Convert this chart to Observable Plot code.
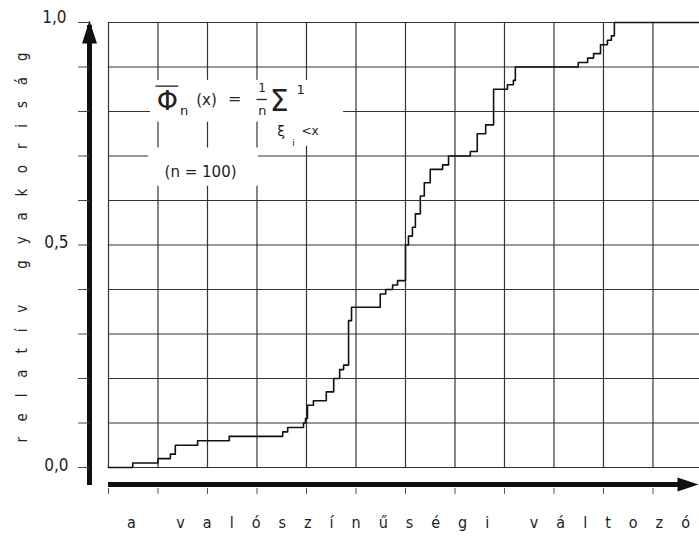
<!DOCTYPE html>
<html><head><meta charset="utf-8">
<script src="https://cdn.jsdelivr.net/npm/d3@7"></script>
<script src="https://cdn.jsdelivr.net/npm/@observablehq/plot@0.6"></script>
<style>html,body{margin:0;padding:0;background:#fff;}</style>
</head><body><div id="chart"></div>
<script>
// empirical distribution function, n = 100 (x in grid units)
const stepX = [0, 0.49, 1.0, 1.25, 1.35, 1.80, 2.44, 3.52, 3.62, 3.94, 3.98, 4.02, 4.14, 4.40, 4.55, 4.67, 4.75, 4.85, 4.91, 5.49, 5.60, 5.74, 5.84, 6.0, 6.06, 6.14, 6.20, 6.30, 6.38, 6.50, 6.75, 6.87, 7.31, 7.45, 7.62, 7.78, 8.06, 8.18, 8.22, 9.49, 9.68, 9.80, 9.94, 10.08, 10.16, 10.22];
const stepY = [0, 0.01, 0.02, 0.03, 0.05, 0.06, 0.07, 0.08, 0.09, 0.10, 0.11, 0.14, 0.15, 0.17, 0.20, 0.22, 0.23, 0.33, 0.36, 0.39, 0.40, 0.41, 0.42, 0.50, 0.52, 0.54, 0.57, 0.61, 0.64, 0.67, 0.68, 0.70, 0.71, 0.75, 0.77, 0.85, 0.86, 0.87, 0.90, 0.91, 0.92, 0.93, 0.95, 0.96, 0.97, 1.00];
const xMax = 11.94;
const xGrid = d3.range(0, 12);
const yGrid = d3.range(0, 11).map(i => i / 10);
const yLabelVals = [0, 0.5, 1];
const yAxisTitle = "relatív gyakoriság";
const xAxisTitle = "a valószínűségi változó";
const xTitlePos = [6.06];
const formulaParts = [
  {t: "Φ", x: 1.19, y: 0.822, size: 27},
  {t: "n", x: 1.53, y: 0.802, size: 13},
  {t: "(x)", x: 1.98, y: 0.826, size: 15},
  {t: "=", x: 2.55, y: 0.828, size: 16},
  {t: "1", x: 3.10, y: 0.852, size: 12},
  {t: "n", x: 3.11, y: 0.801, size: 13},
  {t: "Σ", x: 3.45, y: 0.822, size: 30},
  {t: "1", x: 3.88, y: 0.848, size: 13},
  {t: "ξ", x: 3.49, y: 0.755, size: 14},
  {t: "i", x: 3.74, y: 0.729, size: 9},
  {t: "<x", x: 4.07, y: 0.755, size: 12},
  {t: "(n = 100)", x: 1.86, y: 0.664, size: 15}
];
const formulaBars = [
  {x1: 0.96, x2: 1.42, y: 0.857},
  {x1: 3.00, x2: 3.21, y: 0.827}
];
const boxes = [
  {x1: 0.85, x2: 4.75, y1: 0.776, y2: 0.870},
  {x1: 3.23, x2: 4.38, y1: 0.722, y2: 0.792},
  {x1: 0.81, x2: 3.03, y1: 0.632, y2: 0.718}
];

const steps = stepX.map((x, i) => ({x, y: stepY[i]}))
  .concat([{x: xMax, y: stepY[stepY.length - 1]}]);

const arrowUp = {draw(ctx) { ctx.moveTo(0, -2); ctx.lineTo(7.5, 21); ctx.lineTo(-7.5, 21); ctx.closePath(); }};
const arrowRight = {draw(ctx) { ctx.moveTo(0, 0); ctx.lineTo(-21, -7); ctx.lineTo(-21, 7); ctx.closePath(); }};
const fmt = d => d3.format(".1f")(d).replace(".", ",");
const narrow = "'Liberation Sans Narrow', 'DejaVu Sans Condensed', sans-serif";
const gridColor = "#333";

const plot = Plot.plot({
  width: 699, height: 537,
  marginLeft: 108, marginRight: 0, marginTop: 22, marginBottom: 70,
  x: {domain: [0, xMax]},
  y: {domain: [0, 1]},
  style: {background: "#fff", color: "#111", fontFamily: narrow},
  marks: [
    Plot.ruleX(xGrid, {y1: 0, y2: 1, stroke: gridColor, strokeWidth: 1.2}),
    Plot.ruleY(yGrid, {x1: 0, x2: xMax, stroke: gridColor, strokeWidth: 1.2}),
    Plot.rect(boxes, {x1: "x1", x2: "x2", y1: "y1", y2: "y2", fill: "#fff"}),
    Plot.text(formulaParts, {x: "x", y: "y", text: "t", fontSize: "size", fontFamily: "DejaVu Sans", fill: "#222"}),
    Plot.ruleY(formulaBars, {x1: "x1", x2: "x2", y: "y", stroke: "#222", strokeWidth: 1.3}),
    Plot.line(steps, {x: "x", y: "y", curve: "step-after", stroke: "#111", strokeWidth: 1.6}),
    // y axis arrow
    Plot.ruleX([0], {y1: 0, y2: 1, dx: -19, stroke: "#111", strokeWidth: 5, insetTop: 18, insetBottom: -3}),
    Plot.dot([1], {x: 0, y: d => d, dx: -19, symbol: arrowUp, fill: "#111", stroke: "none", r: 5}),
    Plot.axisY({ticks: yGrid, anchor: "left", tickSize: 11, tickFormat: () => "", dx: -19, label: null, stroke: "#444"}),
    Plot.text(yLabelVals.filter(v => v < 1), {x: 0, y: d => d, text: fmt, dx: -40, dy: -2, textAnchor: "end", fontSize: 17, fill: "#222"}),
    Plot.text(yLabelVals.filter(v => v >= 1), {x: 0, y: d => d, text: fmt, dx: -42, dy: -5, textAnchor: "end", fontSize: 17, fill: "#222"}),
    // x axis arrow
    Plot.ruleY([0], {x1: 0, x2: xMax, dy: 17, stroke: "#111", strokeWidth: 5, insetRight: 15}),
    Plot.dot([0], {x: xMax, y: d => d, dx: -1, dy: 17, symbol: arrowRight, fill: "#111", stroke: "none", r: 5}),
    Plot.axisX({ticks: xGrid, anchor: "bottom", tickSize: 6, tickFormat: () => "", dy: 21, label: null, stroke: "#555"}),
    // titles
    Plot.text([yAxisTitle], {x: 0, y: 0.5, dx: -86, dy: 2.5, rotate: -90, fontSize: 15, fill: "#222"}),
    Plot.text(xTitlePos, {x: d => d, y: 0, text: () => xAxisTitle, dy: 55, fontSize: 16, fill: "#222"})
  ]
});
plot.querySelectorAll("text").forEach(t => {
  if (t.textContent === yAxisTitle) { t.setAttribute("textLength", 390); t.setAttribute("lengthAdjust", "spacing"); }
  if (t.textContent === xAxisTitle) { t.setAttribute("textLength", 563); t.setAttribute("lengthAdjust", "spacing"); }
});
document.getElementById("chart").appendChild(plot);
</script>
</body></html>
